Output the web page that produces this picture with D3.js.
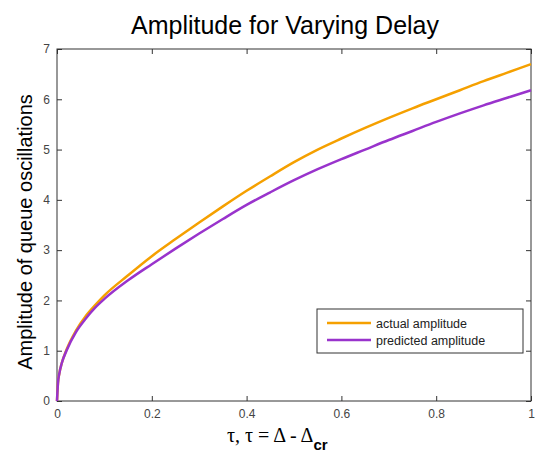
<!DOCTYPE html>
<html><head><meta charset="utf-8">
<script src="https://cdn.jsdelivr.net/npm/d3@7"></script>
<style>body{margin:0;background:#fff}svg{display:block}</style>
</head><body><svg id="c" width="537" height="459"></svg>
<script>
const tau = [0,0.002,0.005,0.01,0.02,0.04,0.06,0.08,0.1,0.15,0.2,0.25,0.3,0.35,0.4,0.45,0.5,0.55,0.6,0.65,0.7,0.75,0.8,0.85,0.9,0.95,1.0];
const actual = [0,0.35,0.55,0.75,1.02,1.4,1.68,1.9,2.1,2.5,2.88,3.22,3.55,3.87,4.18,4.47,4.75,5.0,5.22,5.43,5.63,5.82,6.0,6.18,6.36,6.53,6.7];
const predicted = [0,0.35,0.55,0.75,1.0,1.37,1.63,1.85,2.03,2.4,2.72,3.03,3.33,3.62,3.9,4.15,4.39,4.61,4.81,5.0,5.19,5.37,5.55,5.72,5.88,6.03,6.18];
const xTicks = [0,0.2,0.4,0.6,0.8,1];
const yTicks = [0,1,2,3,4,5,6,7];
const seriesNames = ["actual amplitude","predicted amplitude"];
const colors = ["#f5a000","#9933cc"];

const svg = d3.select("#c");
const L=57,R=531,T=49,B=401;
const x = d3.scaleLinear().domain([0,1]).range([L,R]);
const y = d3.scaleLinear().domain([0,7]).range([B,T]);
const font = "Liberation Sans, Arial, sans-serif";

svg.append("rect").attr("x",L).attr("y",T).attr("width",R-L).attr("height",B-T).attr("fill","#fff");

function styleAxis(g){
  g.select(".domain").remove();
  g.selectAll("line").attr("stroke","#333");
  g.selectAll("text").attr("fill","#444").style("font-family",font).style("font-size","12px");
}
svg.append("g").attr("transform",`translate(0,${B})`)
  .call(d3.axisBottom(x).tickValues(xTicks).tickSize(-5).tickPadding(8).tickFormat(d3.format("~g")))
  .call(styleAxis);
svg.append("g").attr("transform",`translate(0,${T})`)
  .call(d3.axisTop(x).tickValues(xTicks).tickSize(-5).tickFormat(""))
  .call(styleAxis);
svg.append("g").attr("transform",`translate(${L},0)`)
  .call(d3.axisLeft(y).tickValues(yTicks).tickSize(-5).tickPadding(7).tickFormat(d3.format("~g")))
  .call(styleAxis);
svg.append("g").attr("transform",`translate(${R},0)`)
  .call(d3.axisRight(y).tickValues(yTicks).tickSize(-5).tickFormat(""))
  .call(styleAxis);
svg.append("rect").attr("x",L).attr("y",T).attr("width",R-L).attr("height",B-T)
  .attr("fill","none").attr("stroke","#333").attr("stroke-width",1);

const line = d3.line().x(d=>x(d[0])).y(d=>y(d[1])).curve(d3.curveMonotoneX);
[actual,predicted].forEach((s,i)=>{
  svg.append("path").datum(tau.map((t,j)=>[t,s[j]]))
    .attr("d",line).attr("fill","none").attr("stroke",colors[i]).attr("stroke-width",2.5);
});

// legend
const lg = svg.append("g");
lg.append("rect").attr("x",317).attr("y",309).attr("width",206).attr("height",44)
  .attr("fill","#fff").attr("stroke","#333").attr("stroke-width",1);
seriesNames.forEach((n,i)=>{
  const yy = 323 + i*17;
  lg.append("line").attr("x1",327).attr("x2",371).attr("y1",yy).attr("y2",yy)
    .attr("stroke",colors[i]).attr("stroke-width",2.5);
  lg.append("text").attr("x",376).attr("y",yy+4.5).text(n)
    .style("font-family",font).style("font-size","12.5px").attr("fill","#222");
});

// title
svg.append("text").attr("x",285).attr("y",34).attr("text-anchor","middle")
  .style("font-family",font).style("font-size","25px").attr("fill","#000")
  .text("Amplitude for Varying Delay");
// y label
svg.append("text").attr("transform",`translate(32,232) rotate(-90)`).attr("text-anchor","middle")
  .style("font-family",font).style("font-size","20px").attr("fill","#000")
  .text("Amplitude of queue oscillations");
// x label
const xl = svg.append("text").attr("x",227).attr("y",442)
  .style("font-family","Liberation Serif, Times New Roman, serif").style("font-size","20px").attr("fill","#000");
xl.append("tspan").text("τ, τ = Δ - Δ");
xl.append("tspan").attr("dy",8).style("font-family",font).style("font-weight","bold").style("font-size","15px").text("cr");
</script></body></html>
